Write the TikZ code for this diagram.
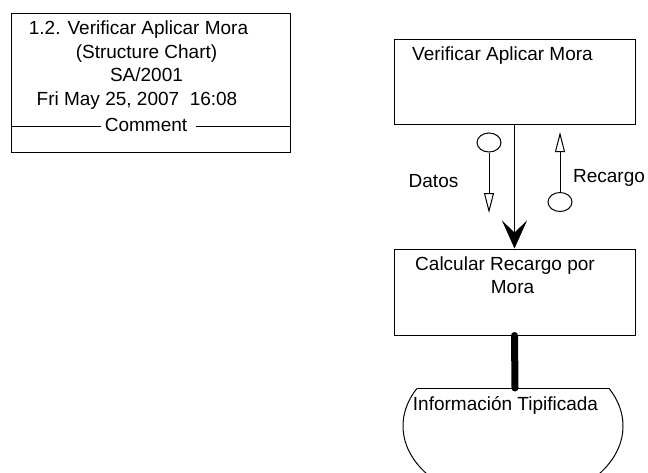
\documentclass[tikz,border=0pt]{standalone}
\usepackage{fontspec}
\setmainfont{Liberation Sans}
\usetikzlibrary{arrows.meta,shapes.geometric}
\begin{document}
\begin{tikzpicture}[x=1pt,y=-1pt,
  every node/.style={font=\fontsize{19}{22}\selectfont, inner sep=0pt},
  txt/.style={anchor=base},
  module/.style={draw, line width=1pt, rectangle, minimum width=241pt},
  couple/.style={draw, line width=1pt, ellipse, minimum width=24pt, minimum height=19pt},
  flow/.style={line width=1pt, -{Triangle[open, length=20pt, width=10pt, line width=1pt]}},
  call/.style={line width=1pt, -{Stealth[length=28pt, width=25pt, inset=12pt]}},
  datalink/.style={line width=7pt, line cap=round},
  frame/.style={draw, line width=1pt}]
\useasboundingbox (0,0) rectangle (648,472);

% title block
\node[frame, rectangle, minimum width=279pt, minimum height=139pt] (title) at (150.5,82.5) {};
\node[txt] (t1) at (138.5,34.5) {1.2. Verificar Aplicar Mora};
\node[txt] (t2) at (146.5,58) {(Structure Chart)};
\node[txt] (t3) at (146.5,81.5) {SA/2001};
\node[txt] (t4) at (137,105) {Fri May 25, 2007\ \ 16:08};
\node[txt] (t5) at (146,131.5) {Comment};
\coordinate (cl) at (title.west |- 0,126);
\coordinate (cr) at (title.east |- 0,126);
\draw[line width=1pt] (cl) -- (101,126);
\draw[line width=1pt] (196,126) -- (cr);

% modules
\node[module, minimum height=85pt] (verif) at (514.5,81.5) {};
\node[txt, anchor=base west] (verift) at (412,60.5) {Verificar Aplicar Mora};
\node[module, minimum height=86pt] (calc) at (514.5,292) {};
\node[txt] (calct1) at (505,270) {Calcular Recargo por};
\node[txt] (calct2) at (512.5,293) {Mora};

% call between modules
\draw[call] (verif.south) -- (calc.north);

% couples
\node[couple] (datos) at (489,142.5) {};
\coordinate (datosend) at (489,213);
\draw[flow] (datos.south) -- (datosend);
\node[txt] (datosl) at (433.5,187) {Datos};

\node[couple] (recargo) at (560,202) {};
\coordinate (recargoend) at (560,132);
\draw[flow] (recargo.north) -- (recargoend);
\node[txt] (recargol) at (609,182) {Recargo};

% data store
\coordinate (store) at (515,388);
\begin{scope}
  \clip (0,388) rectangle (648,472);
  \draw[line width=1pt] (513,426) ellipse [x radius=110pt, y radius=77pt];
\end{scope}
\draw[line width=1pt] (417.5,388) -- (608.5,388);
\node[txt] (storet) at (505.5,410) {Información Tipificada};
\draw[datalink] (calc.south) -- (store);
\end{tikzpicture}
\end{document}
